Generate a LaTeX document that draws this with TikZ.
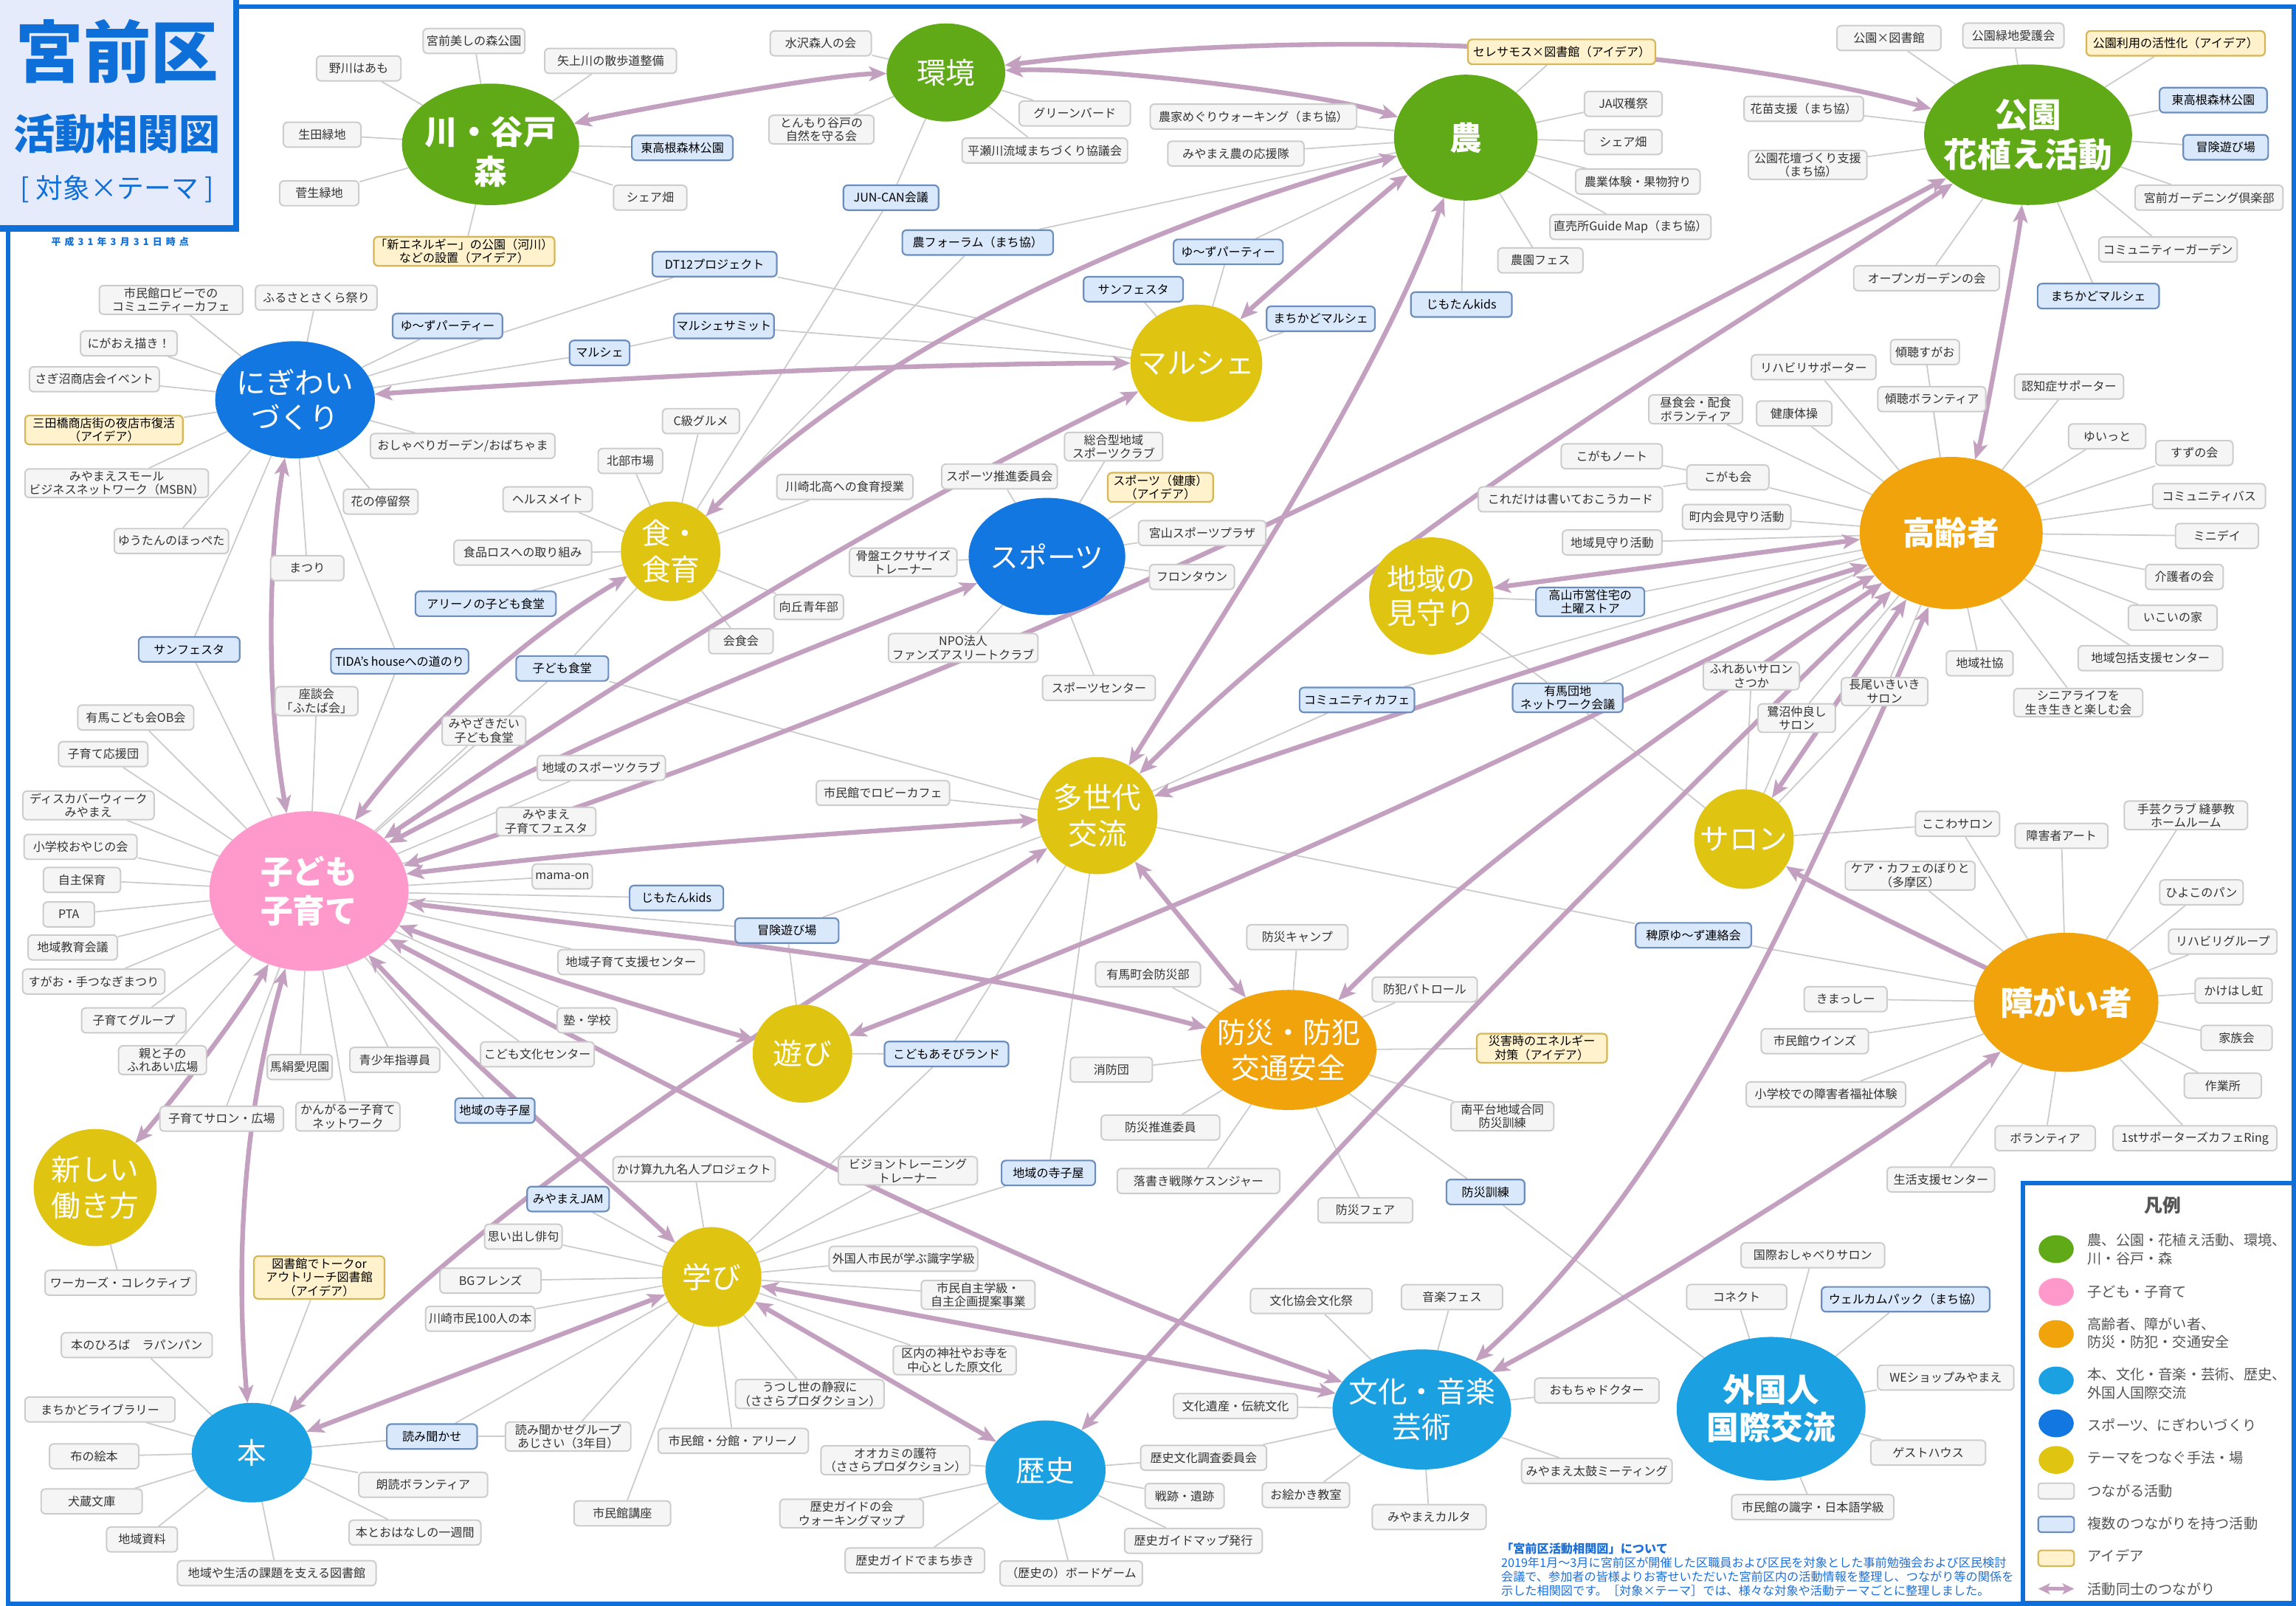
\documentclass[tikz,border=0pt]{standalone}
\usepackage{fontspec}
\setmainfont{Noto Sans CJK JP}
\usetikzlibrary{shapes.geometric,arrows.meta}
\pgfdeclarelayer{back}\pgfdeclarelayer{bg}\pgfdeclarelayer{mid}
\pgfsetlayers{back,bg,mid,main}
\definecolor{cgreen}{HTML}{60A917}
\definecolor{cpink}{HTML}{FF99CC}
\definecolor{corange}{HTML}{F0A30A}
\definecolor{ccyan}{HTML}{1BA1E2}
\definecolor{cblue}{HTML}{1277E1}
\definecolor{cyellow}{HTML}{E0C412}
\definecolor{boxline}{HTML}{CCCCCC}
\definecolor{boxfill}{HTML}{F5F5F5}
\definecolor{boxtext}{HTML}{333333}
\definecolor{blueline}{HTML}{6C8EBF}
\definecolor{bluefill}{HTML}{DAE8FC}
\definecolor{yelline}{HTML}{D6B656}
\definecolor{yelfill}{HTML}{FFF2CC}
\definecolor{linkgray}{HTML}{CCCCCC}
\definecolor{relc}{RGB}{196,160,192}
\definecolor{tblue}{HTML}{0F6FD8}
\definecolor{titlebg}{HTML}{E6EBFC}
\definecolor{legc}{HTML}{555555}
\definecolor{desc}{HTML}{1D6FD8}
\tikzset{
  gbox/.style={draw=boxline, fill=boxfill, rounded corners=3pt, line width=1pt, text=boxtext,
    font=\fontsize{8.1}{9.4}\selectfont, align=center, inner xsep=1pt, inner ysep=1.4pt, minimum height=17pt},
  bbox/.style={gbox, draw=blueline, fill=bluefill, text=black, line width=1.1pt},
  ybox/.style={gbox, draw=yelline, fill=yelfill, text=black, line width=1.1pt},
  hub/.style={ellipse, draw=none, inner sep=0pt, outer sep=0pt},
  hubtxt/.style={text=white, align=center, inner sep=0pt},
  link/.style={draw=linkgray, line width=0.9pt},
  rel/.style={draw=relc, line width=3.2pt,
    {Stealth[length=12pt,width=10pt,inset=3pt]}-{Stealth[length=12pt,width=10pt,inset=3pt]}},
  legtxt/.style={font=\fontsize{9.7}{12.4}\selectfont, text=legc, align=left, anchor=west, inner sep=0pt},
}
\newcommand\gbx[4]{\node[gbox,minimum width=#3pt] (#1) at (#2) {#4};}
\newcommand\bbx[4]{\node[bbox,minimum width=#3pt] (#1) at (#2) {#4};}
\newcommand\ybx[4]{\node[ybox,minimum width=#3pt] (#1) at (#2) {#4};}
\newcommand\hubnode[7]{\node[hub,fill=#2,minimum width=#4pt,minimum height=#5pt,
  label={[hubtxt,font={#6}]center:{#7}}] (#1) at (#3) {};}
\newcommand\hR{\fontsize{20}{24}\selectfont}
% curved relation: start, out angle, in angle, control distance, end
\newcommand\crel[5]{\draw[rel] (#1) .. controls +(#2:#4pt) and +(#3:#4pt) .. (#5);}
\begin{document}
\begin{tikzpicture}[x=1pt,y=-1pt]
\useasboundingbox (0,0) rectangle (1568,1096.7);
\begin{pgfonlayer}{back}
\fill[white] (0,0) rectangle (1568,1096.7);
\end{pgfonlayer}
\draw[tblue, line width=3pt] (5.4,4.5) rectangle (1566.5,1095);

% ---------------- hubs ----------------
\node[hub,fill=cgreen,minimum width=121pt,minimum height=83pt,
  label={[hubtxt,yshift=-5pt,font={\fontsize{22.5}{27}\selectfont\bfseries}]center:{川・谷戸\\森}}] (kawa) at (335,98.6) {};
\hubnode{kankyo}{cgreen}{646,49.5}{81}{67}{\hR}{環境}
\hubnode{nou}{cgreen}{1001,94}{98}{86}{\fontsize{22}{26}\selectfont\bfseries}{農}
\hubnode{koen}{cgreen}{1385,92}{142}{96}{\fontsize{23}{27}\selectfont\bfseries}{公園\\花植え活動}
\hubnode{nigi}{cblue}{201.5,273}{109}{80}{\fontsize{20}{24}\selectfont}{にぎわい\\づくり}
\hubnode{marche}{cyellow}{817,248}{90}{80}{\hR}{マルシェ}
\hubnode{shoku}{cyellow}{458,376.5}{68}{68}{\fontsize{20}{24.5}\selectfont}{食・\\食育}
\hubnode{sports}{cblue}{715,380}{107}{80}{\fontsize{19.5}{24}\selectfont}{スポーツ}
\hubnode{mimamori}{cyellow}{977.5,407}{85}{80}{\fontsize{20}{23}\selectfont}{地域の\\見守り}
\hubnode{koreisha}{corange}{1332.5,364}{125}{104}{\fontsize{22}{26}\selectfont\bfseries}{高齢者}
\hubnode{kodomo}{cpink}{211,608.5}{136}{109}{\fontsize{22}{27}\selectfont\bfseries}{子ども\\子育て}
\hubnode{tasedai}{cyellow}{749.5,557}{82}{80}{\fontsize{20}{24.5}\selectfont}{多世代\\交流}
\hubnode{salon}{cyellow}{1191,573}{68}{68}{\hR}{サロン}
\hubnode{shogai}{corange}{1411,684.5}{126}{95}{\fontsize{22.5}{26}\selectfont\bfseries}{障がい者}
\hubnode{asobi}{cyellow}{548,719.5}{68}{67}{\hR}{遊び}
\hubnode{bosai}{corange}{880,717}{120}{82}{\fontsize{19.5}{24}\selectfont}{防災・防犯\\交通安全}
\hubnode{atarashii}{cyellow}{65,811}{84}{80}{\fontsize{20}{25}\selectfont}{新しい\\働き方}
\hubnode{manabi}{cyellow}{486,872}{68}{68}{\hR}{学び}
\hubnode{hon}{ccyan}{172,992}{82}{68}{\hR}{本}
\hubnode{rekishi}{ccyan}{714,1004}{82}{68}{\hR}{歴史}
\hubnode{bunka}{ccyan}{971,962.5}{122}{82}{\fontsize{20}{24.5}\selectfont}{文化・音楽\\芸術}
\hubnode{gaikoku}{ccyan}{1209.5,962}{129}{98}{\fontsize{22}{25.5}\selectfont\bfseries}{外国人\\国際交流}

% ---------------- boxes ----------------
\gbx{k1}{323.7,28}{69.5}{宮前美しの森公園}
\gbx{k2}{245,46.7}{57.6}{野川はあも}
\gbx{k3}{220,92}{53}{生田緑地}
\gbx{k4}{218,132}{54}{菅生緑地}
\ybx{k5}{317,171.6}{122}{「新エネルギー」の公園（河川）\\などの設置（アイデア）}
\gbx{k6}{417,41.6}{90}{矢上川の散歩道整備}
\bbx{k7}{466,101}{69}{東高根森林公園}
\gbx{k8}{444,135}{50}{シェア畑}
\gbx{e1}{560.5,29.6}{69}{水沢森人の会}
\gbx{e2}{561,88.5}{71.7}{とんもり谷戸の\\自然を守る会}
\gbx{e3}{734,77.5}{76}{グリーンバード}
\gbx{e4}{713.5,102.8}{113}{平瀬川流域まちづくり協議会}
\bbx{e5}{608.5,135}{65}{JUN-CAN会議}
\ybx{n1}{1066.5,35.4}{128}{セレサモス×図書館（アイデア）}
\gbx{n2}{856,79.6}{141}{農家めぐりウォーキング（まち協）}
\gbx{n3}{844,104.9}{93}{みやまえ農の応援隊}
\gbx{n4}{1108.6,70.9}{53}{JA収穫祭}
\gbx{n5}{1108.5,97}{53}{シェア畑}
\gbx{n6}{1118.5,124}{85}{農業体験・果物狩り}
\gbx{n7}{1113.5,155}{110}{直売所Guide Map（まち協）}
\gbx{n8}{1052,177.8}{58}{農園フェス}
\bbx{n9}{998,208}{69}{じもたんkids}
\bbx{n10}{667.7,165.6}{103}{農フォーラム（まち協）}
\bbx{n11}{838.8,172}{74.7}{ゆ〜ずパーティー}
\gbx{p1}{1290,26}{71}{公園×図書館}
\gbx{p2}{1375,24.3}{69}{公園緑地愛護会}
\ybx{p3}{1485.8,29.6}{122}{公園利用の活性化（アイデア）}
\bbx{p4}{1511.5,68.4}{73.4}{東高根森林公園}
\bbx{p5}{1520,100.6}{58}{冒険遊び場}
\gbx{p6}{1508.6,135}{101}{宮前ガーデニング倶楽部}
\gbx{p7}{1480.6,170.4}{94.5}{コミュニティーガーデン}
\bbx{p8}{1433,202.2}{83}{まちかどマルシェ}
\gbx{p9}{1231.8,74.3}{81.5}{花苗支援（まち協）}
\gbx{p10}{1234.5,112.6}{81}{公園花壇づくり支援\\（まち協）}
\gbx{p11}{1315.7,190}{99.5}{オープンガーデンの会}
\gbx{g1}{116.8,204.8}{98}{市民館ロビーでの\\コミュニティーカフェ}
\gbx{g2}{216,203.3}{83}{ふるさとさくら祭り}
\bbx{g3}{305.6,222.6}{75}{ゆ〜ずパーティー}
\gbx{g4}{88,234.5}{66}{にがおえ描き！}
\gbx{g5}{64.4,259}{88.7}{さぎ沼商店会イベント}
\ybx{g6}{71,293.6}{107.8}{三田橋商店街の夜店市復活\\（アイデア）}
\gbx{g7}{316,304.6}{126}{おしゃべりガーデン/おばちゃま}
\gbx{g8}{79.7,330}{125.3}{みやまえスモール\\ビジネスネットワーク（MSBN）}
\gbx{g9}{260,342.6}{51}{花の停留祭}
\gbx{g10}{117,369.5}{78}{ゆうたんのほっぺた}
\gbx{g11}{209.8,388}{50}{まつり}
\bbx{g12}{129.2,443.5}{69}{サンフェスタ}
\bbx{g13}{273,451.6}{94}{TIDA's houseへの道のり}
\bbx{g14}{409.5,241}{41}{マルシェ}
\bbx{g15}{488,180.4}{85}{DT12プロジェクト}
\bbx{g16}{494.4,222.6}{68.4}{マルシェサミット}
\bbx{m1}{774,197.5}{68}{サンフェスタ}
\bbx{m2}{902,217.7}{74}{まちかどマルシェ}
\gbx{s1}{478.7,287.6}{52.6}{C級グルメ}
\gbx{s2}{430.5,314.8}{44}{北部市場}
\gbx{s3}{374,341}{61}{ヘルスメイト}
\gbx{s4}{357,377.4}{94}{食品ロスへの取り組み}
\gbx{s5}{577,332.5}{93}{川崎北高への食育授業}
\gbx{s6}{552.3,414.5}{47.4}{向丘青年部}
\gbx{s7}{506,437.9}{44}{会食会}
\bbx{s8}{331.7,412.3}{96}{アリーノの子ども食堂}
\bbx{s9}{384,456.5}{63}{子ども食堂}
\gbx{t1}{682.6,325.4}{79}{スポーツ推進委員会}
\gbx{t2}{760.5,305}{67}{総合型地域\\スポーツクラブ}
\ybx{t3}{792.5,332.8}{72}{スポーツ（健康）\\（アイデア）}
\gbx{t4}{821,364}{87}{宮山スポーツプラザ}
\gbx{t5}{814,394}{58}{フロンタウン}
\gbx{t6}{616.8,384}{73.4}{骨盤エクササイズ\\トレーナー}
\gbx{t7}{657.8,442.5}{102}{NPO法人\\ファンズアスリートクラブ}
\gbx{t8}{750.5,469.8}{77}{スポーツセンター}
\gbx{c1}{92.7,490}{79.2}{有馬こども会OB会}
\gbx{c2}{70.5,515}{61}{子育て応援団}
\gbx{c3}{60.4,550}{89.7}{ディスカバーウィーク\\みやまえ}
\gbx{c4}{55,578.3}{77.2}{小学校おやじの会}
\gbx{c5}{56,600.9}{52.6}{自主保育}
\gbx{c6}{47,624.5}{35}{PTA}
\gbx{c7}{49.7,647}{61}{地域教育会議}
\gbx{c8}{64,670.3}{97.2}{すがお・手つなぎまつり}
\gbx{c9}{91.4,696.8}{71.4}{子育てグループ}
\gbx{c10}{111,724}{60}{親と子の\\ふれあい広場}
\gbx{c11}{151.4,764}{84.5}{子育てサロン・広場}
\gbx{c12}{204.7,728.7}{44.4}{馬絹愛児園}
\gbx{c13}{237.6,762.5}{71}{かんがるー子育て\\ネットワーク}
\gbx{c14}{269.6,723.8}{61.4}{青少年指導員}
\bbx{c15}{338,758.4}{54.4}{地域の寺子屋}
\gbx{c16}{367,720}{77.7}{こども文化センター}
\gbx{c17}{401,696.8}{41}{塾・学校}
\gbx{c18}{431,657}{100}{地域子育て支援センター}
\bbx{c19}{537.4,635.5}{70.7}{冒険遊び場}
\bbx{c20}{462,613.2}{64}{じもたんkids}
\gbx{c21}{384,598.5}{41}{mama-on}
\gbx{c22}{373,561}{67.8}{みやまえ\\子育てフェスタ}
\gbx{c23}{410.7,524.4}{87.4}{地域のスポーツクラブ}
\gbx{c24}{330.5,499}{57}{みやざきだい\\子ども食堂}
\gbx{c25}{216.2,478.8}{56.4}{座談会\\「ふたば会」}
\gbx{d1}{603,541.5}{91}{市民館でロビーカフェ}
\bbx{d2}{646.4,719.8}{84.7}{こどもあそびランド}
\bbx{d3}{1156.5,638.7}{79}{稗原ゆ〜ず連絡会}
\bbx{d4}{926.7,478}{78.4}{コミュニティカフェ}
\bbx{d5}{716,801}{64}{地域の寺子屋}
\bbx{w1}{1086,411}{74}{高山市営住宅の\\土曜ストア}
\bbx{w2}{1070.6,476.5}{75.2}{有馬団地\\ネットワーク会議}
\gbx{r1}{1101,370.5}{68}{地域見守り活動}
\gbx{r2}{1186,353}{74}{町内会見守り活動}
\gbx{r3}{1180,326}{56}{こがも会}
\gbx{r4}{1100.7,311.6}{69}{こがもノート}
\gbx{r5}{1072.5,341}{125.8}{これだけは書いておこうカード}
\gbx{r6}{1158,279.5}{64}{昼食会・配食\\ボランティア}
\gbx{r7}{1225.3,282.4}{51.4}{健康体操}
\gbx{r8}{1238.6,250.8}{85}{リハビリサポーター}
\gbx{r9}{1314.6,240.4}{47}{傾聴すがお}
\gbx{r10}{1319.3,272.6}{73.7}{傾聴ボランティア}
\gbx{r11}{1413,264}{74.4}{認知症サポーター}
\gbx{r12}{1439,298}{52.6}{ゆいっと}
\gbx{r13}{1498.6,309.4}{52.6}{すずの会}
\gbx{r14}{1508.6,338.8}{77}{コミュニティバス}
\gbx{r15}{1514,366}{56.6}{ミニデイ}
\gbx{r16}{1491.8,394}{53}{介護者の会}
\gbx{r17}{1483.8,421.8}{60.7}{いこいの家}
\gbx{r18}{1468.6,449.5}{98.7}{地域包括支援センター}
\gbx{r19}{1352,453}{45.6}{地域社協}
\gbx{r20}{1419.3,479.8}{88}{シニアライフを\\生き生きと楽しむ会}
\gbx{r21}{1196,461.6}{65.6}{ふれあいサロン\\さつか}
\gbx{r22}{1287,472.3}{59}{長尾いきいき\\サロン}
\gbx{r23}{1227,490.4}{52.9}{鷺沼仲良し\\サロン}
\gbx{l1}{1336.8,562.6}{57.4}{ここわサロン}
\gbx{h1}{1407.8,570.8}{63.4}{障害者アート}
\gbx{h2}{1492.8,556.8}{84.2}{手芸クラブ 縫夢教\\ホームルーム}
\gbx{h3}{1304.5,598}{88.7}{ケア・カフェのぼりと\\（多摩区）}
\gbx{h4}{1503.4,609.4}{57}{ひよこのパン}
\gbx{h5}{1518,643}{74}{リハビリグループ}
\gbx{h6}{1525.4,676.5}{52.6}{かけはし虹}
\gbx{h7}{1527.4,708.8}{48.6}{家族会}
\gbx{h8}{1260.4,682.3}{56.6}{きまっしー}
\gbx{h9}{1239.4,711}{73.2}{市民館ウインズ}
\gbx{h10}{1247,747.3}{108.8}{小学校での障害者福祉体験}
\gbx{h11}{1518,741.4}{52.6}{作業所}
\gbx{h12}{1396.7,777.3}{68.4}{ボランティア}
\gbx{h13}{1499,777.3}{111.8}{1stサポーターズカフェRing}
\gbx{h14}{1325.5,805.5}{73.4}{生活支援センター}
\gbx{b1}{886,640}{69}{防災キャンプ}
\gbx{b2}{784,665.4}{71.6}{有馬町会防災部}
\gbx{b3}{973,675.7}{71.7}{防犯パトロール}
\ybx{b4}{1053,715.8}{89}{災害時のエネルギー\\対策（アイデア）}
\gbx{b5}{759,730.5}{56}{消防団}
\gbx{b6}{792.5,770}{81}{防災推進委員}
\gbx{b7}{818.5,806.5}{111}{落書き戦隊ケスンジャー}
\gbx{b8}{932.4,826.5}{64.7}{防災フェア}
\gbx{b9}{1026,762.3}{70.2}{南平台地域合同\\防災訓練}
\bbx{b10}{1014.5,814}{53.4}{防災訓練}
\gbx{u1}{895.5,888.4}{83}{文化協会文化祭}
\gbx{u2}{991.6,885.8}{69}{音楽フェス}
\gbx{u3}{1090.5,949.6}{85}{おもちゃドクター}
\gbx{u4}{843.8,960.2}{84.7}{文化遺産・伝統文化}
\gbx{u5}{1090.5,1004.5}{102.8}{みやまえ太鼓ミーティング}
\gbx{u6}{822,995.5}{86}{歴史文化調査委員会}
\gbx{u7}{891.8,1021}{59.6}{お絵かき教室}
\gbx{u8}{976,1036}{77.7}{みやまえカルタ}
\gbx{x1}{809,1021.6}{54}{戦跡・遺跡}
\gbx{x2}{815,1052.2}{94}{歴史ガイドマップ発行}
\gbx{x3}{731.6,1074.5}{97.2}{（歴史の）ボードゲーム}
\gbx{x4}{624.8,1065.6}{95.2}{歴史ガイドでまち歩き}
\gbx{x5}{581.6,1033.6}{98}{歴史ガイドの会\\ウォーキングマップ}
\gbx{x6}{611.5,997.2}{101.7}{オオカミの護符\\（ささらプロダクション）}
\gbx{f1}{1238,857.2}{98}{国際おしゃべりサロン}
\gbx{f2}{1186,885.7}{68.4}{コネクト}
\bbx{f3}{1301.4,887.3}{114.8}{ウェルカムパック（まち協）}
\gbx{f4}{1328.8,940.8}{93}{WEショップみやまえ}
\gbx{f5}{1316.8,992}{78.4}{ゲストハウス}
\gbx{f6}{1238,1029.2}{110.8}{市民館の識字・日本語学級}
\gbx{a1}{474,798.4}{110.8}{かけ算九九名人プロジェクト}
\gbx{a2}{620,799.5}{95}{ビジョントレーニング\\トレーナー}
\bbx{a3}{388,818.8}{56}{みやまえJAM}
\gbx{a4}{617,859.6}{101.5}{外国人市民が学ぶ識字学級}
\gbx{a5}{668,884.2}{77.7}{市民自主学級・\\自主企画提案事業}
\gbx{a6}{652,929}{84}{区内の神社やお寺を\\中心とした原文化}
\gbx{a7}{553,952}{101.5}{うつし世の静寂に\\（ささらプロダクション）}
\gbx{a8}{500.8,984}{102.5}{市民館・分館・アリーノ}
\gbx{a9}{425,1033.5}{66}{市民館講座}
\gbx{a10}{357.4,844.5}{53}{思い出し俳句}
\gbx{a11}{335,874.6}{69}{BGフレンズ}
\gbx{a12}{328,900.6}{74.7}{川崎市民100人の本}
\bbx{o1}{295,981}{61.7}{読み聞かせ}
\gbx{o2}{388,981}{85.6}{読み聞かせグループ\\あじさい（3年目）}
\ybx{o3}{218,872.4}{89.2}{図書館でトークor\\アウトリーチ図書館\\（アイデア）}
\gbx{o4}{93.4,918.6}{103}{本のひろば　ラパンパン}
\gbx{o5}{68.3,962.5}{102.5}{まちかどライブラリー}
\gbx{o6}{64.3,994.5}{61}{布の絵本}
\gbx{o7}{62.6,1025.3}{69}{犬蔵文庫}
\gbx{o8}{97,1051.3}{48.4}{地域資料}
\gbx{o9}{189,1074.3}{135.6}{地域や生活の課題を支える図書館}
\gbx{o10}{289,1014}{88}{朗読ボランティア}
\gbx{o11}{283.4,1046.6}{90}{本とおはなしの一週間}
\gbx{z1}{82.4,876}{103.3}{ワーカーズ・コレクティブ}

% ---------------- thin links ----------------
\begin{pgfonlayer}{bg}
\foreach \p/\q in {kawa/k1,kawa/k2,kawa/k3,kawa/k4,kawa/k5,kawa/k6,kawa/k7,kawa/k8,
  kankyo/e1,kankyo/e2,kankyo/e3,kankyo/e4,kankyo/e5,e5/shoku,
  nou/n1,nou/n2,nou/n3,nou/n4,nou/n5,nou/n6,nou/n7,nou/n8,nou/n9,nou/n10,nou/n11,n10/shoku,n11/marche,
  koen/p1,koen/p2,koen/p3,koen/p4,koen/p5,koen/p6,koen/p7,koen/p8,koen/p9,koen/p10,koen/p11,
  nigi/g1,nigi/g2,nigi/g3,nigi/g4,nigi/g5,nigi/g6,nigi/g7,nigi/g8,nigi/g9,nigi/g10,nigi/g11,nigi/g12,nigi/g13,
  nigi/g14,nigi/g15,g14/g16,g16/marche,g15/marche,marche/m1,marche/m2,
  shoku/s1,shoku/s2,shoku/s3,shoku/s4,shoku/s5,shoku/s6,shoku/s7,shoku/s8,shoku/s9,s9/kodomo,s9/tasedai,
  sports/t1,sports/t2,sports/t3,sports/t4,sports/t5,sports/t6,sports/t7,sports/t8,
  kodomo/c1,kodomo/c2,kodomo/c3,kodomo/c4,kodomo/c5,kodomo/c6,kodomo/c7,kodomo/c8,kodomo/c9,kodomo/c10,
  kodomo/c11,kodomo/c12,kodomo/c13,kodomo/c14,kodomo/c15,kodomo/c16,kodomo/c17,kodomo/c18,kodomo/c19,
  kodomo/c20,kodomo/c21,kodomo/c22,kodomo/c23,kodomo/c24,kodomo/c25,kodomo/g12,kodomo/g13,
  c19/asobi,c19/tasedai,
  tasedai/d1,tasedai/d2,tasedai/d3,tasedai/d4,tasedai/d5,d2/asobi,d2/manabi,d3/shogai,d4/koreisha,d5/manabi,
  mimamori/w1,mimamori/w2,w1/koreisha,w2/koreisha,w2/salon,
  koreisha/r1,koreisha/r2,koreisha/r3,r4/r3,r5/r3,koreisha/r6,koreisha/r7,koreisha/r8,koreisha/r9,
  koreisha/r10,koreisha/r11,koreisha/r12,koreisha/r13,koreisha/r14,koreisha/r15,koreisha/r16,koreisha/r17,
  koreisha/r18,koreisha/r19,koreisha/r20,koreisha/r21,koreisha/r22,koreisha/r23,
  salon/r21,salon/r22,salon/r23,salon/l1,l1/shogai,
  shogai/h1,shogai/h2,shogai/h3,shogai/h4,shogai/h5,shogai/h6,shogai/h7,shogai/h8,shogai/h9,shogai/h10,
  shogai/h11,shogai/h12,shogai/h13,shogai/h14,
  bosai/b1,bosai/b2,bosai/b3,bosai/b4,bosai/b5,bosai/b6,bosai/b7,bosai/b8,bosai/b9,bosai/b10,b10/gaikoku,
  bunka/u1,bunka/u2,bunka/u3,bunka/u4,bunka/u5,bunka/u6,bunka/u7,bunka/u8,u6/rekishi,
  rekishi/x1,rekishi/x2,rekishi/x3,rekishi/x4,rekishi/x5,rekishi/x6,
  gaikoku/f1,gaikoku/f2,gaikoku/f3,gaikoku/f4,gaikoku/f5,gaikoku/f6,
  manabi/a1,manabi/a2,manabi/a3,manabi/a4,manabi/a5,manabi/a6,manabi/a7,manabi/a8,manabi/a9,manabi/a10,
  manabi/a11,manabi/a12,manabi/o1,manabi/o2,o1/o2,
  hon/o1,hon/o3,hon/o4,hon/o5,hon/o6,hon/o7,hon/o8,hon/o9,hon/o10,hon/o11,atarashii/z1}
  \draw[link] (\p) -- (\q);
\end{pgfonlayer}

% ---------------- relation arrows ----------------
\begin{pgfonlayer}{mid}
\crel{kawa}{14}{181}{84}{kankyo}
\crel{kankyo}{7}{165}{248}{koen}
\crel{kankyo}{2}{163}{106}{nou}
\crel{nou}{213}{45}{59}{marche}
\crel{nou}{250}{58}{174}{tasedai}
\crel{nou}{195}{45}{208}{shoku}
\crel{nigi}{4}{180}{202}{marche}
\crel{marche}{206}{34}{231}{kodomo.35}
\crel{sports}{201}{28}{170}{kodomo.31}
\crel{koen}{208}{18}{449}{kodomo.15}
\crel{koen}{213}{45}{269}{tasedai}
\crel{tasedai}{184}{7}{166}{kodomo.10}
\crel{kodomo.-7}{-7}{165}{213}{bosai}
\crel{kodomo.-21}{-20}{164}{98}{asobi}
\crel{kodomo.-31}{-28}{161}{279}{bunka}
\crel{kodomo.-47}{-47}{137}{110}{manabi}
\crel{kodomo.241}{239}{48}{58}{atarashii}
\crel{kodomo.253}{254}{95}{116}{hon}
\crel{nigi}{260}{100}{93}{kodomo.106}
\crel{shoku}{210}{53}{97}{kodomo.57}
\crel{tasedai}{213}{47}{253}{hon}
\draw[rel] (manabi) -- (hon);
\draw[rel] (manabi) -- (rekishi);
\draw[rel] (manabi) -- (bunka);
\draw[rel] (tasedai) -- (bosai);
\draw[rel] (koreisha.184) -- (mimamori);
\crel{koreisha.201}{197}{19}{198}{tasedai}
\crel{koreisha.209}{207}{21}{298}{asobi}
\crel{koreisha.216}{214}{45}{180}{bosai}
\crel{koreisha.224}{224}{48}{309}{rekishi}
\draw[rel] (koreisha.236) -- (salon);
\crel{koreisha.253}{246}{42}{233}{bunka}
\crel{koen}{265}{72}{69}{koreisha}
\crel{salon}{-33}{157}{59}{shogai}
\crel{shogai}{217}{28}{160}{bunka}
\end{pgfonlayer}

% ---------------- title ----------------
\draw[tblue, line width=4.2pt, fill=titlebg] (-3,-3) rectangle (161.3,156);
\node[font=\fontsize{46}{50}\selectfont\bfseries, text=tblue, inner sep=0pt] (ttl1) at (80,35) {宮前区};
\node[font=\fontsize{28.3}{30}\selectfont\bfseries, text=tblue, inner sep=0pt] (ttl2) at (80,91.5) {活動相関図};
\node[font=\fontsize{18.5}{20}\selectfont, text=tblue, inner sep=0pt] (ttl3) at (80,129) {[ 対象×テーマ ]};
\node[font=\fontsize{6.5}{7}\selectfont\bfseries\addfontfeature{LetterSpace=40}, text=tblue, inner sep=0pt] (ttl4) at (82,165) {平成31年3月31日時点};

% ---------------- description ----------------
\node[anchor=north west, align=left, inner sep=0pt, text=desc, font=\fontsize{8.15}{9.5}\selectfont] (descr) at (1025,1053.5)
 {{\bfseries 「宮前区活動相関図」について}\\
  2019年1月～3月に宮前区が開催した区職員および区民を対象とした事前勉強会および区民検討\\
  会議で、参加者の皆様よりお寄せいただいた宮前区内の活動情報を整理し、つながり等の関係を\\
  示した相関図です。［対象×テーマ］では、様々な対象や活動テーマごとに整理しました。};

% ---------------- legend ----------------
\draw[tblue, line width=3.3pt, fill=white] (1381.6,807.9) rectangle (1566.5,1095);
\node[font=\fontsize{12.5}{14}\selectfont\bfseries, text=legc] (legt) at (1477,823) {凡例};
\node[ellipse, fill=cgreen, minimum width=24pt, minimum height=19pt, inner sep=0pt] (lg1) at (1404.2,853) {};
\node[ellipse, fill=cpink, minimum width=24pt, minimum height=19pt, inner sep=0pt] (lg2) at (1404.2,882.2) {};
\node[ellipse, fill=corange, minimum width=24pt, minimum height=19pt, inner sep=0pt] (lg3) at (1404.2,911) {};
\node[ellipse, fill=ccyan, minimum width=24pt, minimum height=19pt, inner sep=0pt] (lg4) at (1404.2,942.7) {};
\node[ellipse, fill=cblue, minimum width=24pt, minimum height=19pt, inner sep=0pt] (lg5) at (1404.2,972) {};
\node[ellipse, fill=cyellow, minimum width=24pt, minimum height=19pt, inner sep=0pt] (lg6) at (1404.2,997) {};
\node[draw=boxline, fill=boxfill, rounded corners=2pt, line width=1pt, minimum width=24.5pt, minimum height=10.7pt, inner sep=0pt] (lg7) at (1404.2,1018.2) {};
\node[draw=blueline, fill=bluefill, rounded corners=2pt, line width=1.1pt, minimum width=24.5pt, minimum height=10.7pt, inner sep=0pt] (lg8) at (1404.2,1041) {};
\node[draw=yelline, fill=yelfill, rounded corners=2pt, line width=1.1pt, minimum width=24.5pt, minimum height=10.7pt, inner sep=0pt] (lg9) at (1404.2,1064.1) {};
\coordinate (la1) at (1392,1085);
\coordinate (la2) at (1416.5,1085);
\draw[draw=relc, line width=2.4pt, {Stealth[length=8pt,width=7.5pt,inset=2pt]}-{Stealth[length=8pt,width=7.5pt,inset=2pt]}] (la1) -- (la2);
\node[legtxt] (lt1) at (1425.4,853.3) {農、公園・花植え活動、環境、\\川・谷戸・森};
\node[legtxt] (lt2) at (1425.4,882.2) {子ども・子育て};
\node[legtxt] (lt3) at (1425.4,910.3) {高齢者、障がい者、\\防災・防犯・交通安全};
\node[legtxt] (lt4) at (1425.4,944.9) {本、文化・音楽・芸術、歴史、\\外国人国際交流};
\node[legtxt] (lt5) at (1425.4,973) {スポーツ、にぎわいづくり};
\node[legtxt] (lt6) at (1425.4,995.5) {テーマをつなぐ手法・場};
\node[legtxt] (lt7) at (1425.4,1018) {つながる活動};
\node[legtxt] (lt8) at (1425.4,1040.5) {複数のつながりを持つ活動};
\node[legtxt] (lt9) at (1425.4,1062.6) {アイデア};
\node[legtxt] (lt10) at (1425.4,1085) {活動同士のつながり};
\end{tikzpicture}
\end{document}
